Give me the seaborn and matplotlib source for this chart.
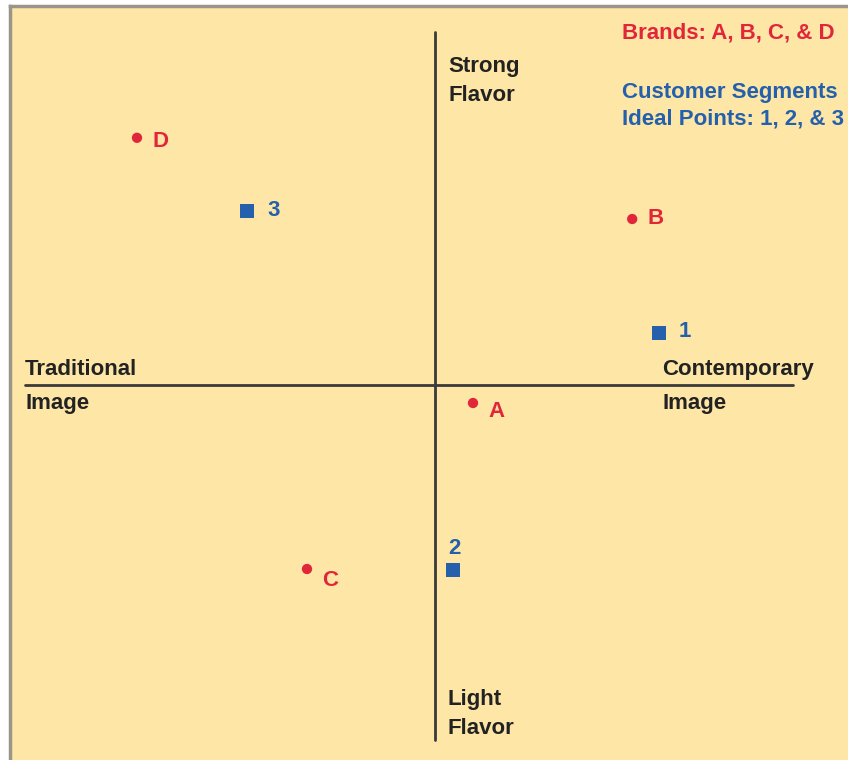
import matplotlib
matplotlib.use("Agg")
import matplotlib.pyplot as plt
import seaborn as sns
import pandas as pd

# Perceptual map data (x: Traditional(-) -> Contemporary(+), y: Light(-) -> Strong(+))
brand_names = ["A", "B", "C", "D"]
brand_x = [0.95, 4.93, -3.2, -7.45]
brand_y = [-0.45, 4.15, -4.6, 6.18]

segment_names = ["1", "2", "3"]
segment_x = [5.6, 0.45, -4.7]
segment_y = [1.3, -4.63, 4.35]

RED = "#E2263A"
BLUE = "#2460AC"
BG = "#FDE6A6"

df = pd.DataFrame({
    "name": brand_names + segment_names,
    "x": brand_x + segment_x,
    "y": brand_y + segment_y,
    "kind": ["Brand"] * len(brand_names) + ["Segment"] * len(segment_names),
})

# label offsets (points) for each point label
label_offsets = {"A": (11, -6), "B": (11, 0), "C": (11, -8), "D": (11, -3),
                 "1": (14, 1), "2": (1, 8), "3": (15, 0)}

sns.set_theme(style="white")
plt.rcParams['font.family'] = ['Liberation Sans Narrow', 'Liberation Sans', 'DejaVu Sans']

fig = plt.figure(figsize=(8.48, 7.6), dpi=100)
fig.patch.set_facecolor("white")
ax = fig.add_axes([10 / 848, 0, 838 / 848, 754 / 760])
ax.set_facecolor(BG)

sns.scatterplot(data=df, x="x", y="y", hue="kind", style="kind",
                palette={"Brand": RED, "Segment": BLUE},
                markers={"Brand": "o", "Segment": "s"},
                size="kind", sizes={"Brand": 55, "Segment": 110},
                linewidth=0, legend=False, ax=ax)

ax.set_xlim(-10.625, 10.325)
ax.set_ylim(-9.375, 9.475)

# axes lines
ax.plot([-10.25, 8.95], [0, 0], color="#3a3a3a", lw=2, zorder=1)
ax.plot([0, 0], [-8.875, 8.825], color="#3a3a3a", lw=2, zorder=1)

FS = 16
for _, r in df.iterrows():
    col = RED if r["kind"] == "Brand" else BLUE
    dx, dy = label_offsets[r["name"]]
    ha = "center" if r["name"] == "2" else "left"
    va = "bottom" if r["name"] == "2" else "center"
    ax.annotate(r["name"], (r["x"], r["y"]), xytext=(dx, dy), textcoords="offset points",
                ha=ha, va=va, color=col, fontsize=FS, fontweight="bold")

lab = dict(color="#222222", fontsize=FS, fontweight="bold", linespacing=1.5)
ax.text(0.33, 7.6, "Strong\nFlavor", ha="left", va="center", **lab)
ax.text(0.3, -8.22, "Light\nFlavor", ha="left", va="center", **lab)
ax.text(-10.25, 0.40, "Traditional", ha="left", va="center", **lab)
ax.text(-10.25, -0.45, "Image", ha="left", va="center", **lab)
ax.text(5.68, 0.40, "Contemporary", ha="left", va="center", **lab)
ax.text(5.68, -0.45, "Image", ha="left", va="center", **lab)

ax.text(4.68, 8.8, "Brands: A, B, C, & D", ha="left", va="center",
        color=RED, fontsize=FS, fontweight="bold")
ax.text(4.68, 6.98, "Customer Segments\nIdeal Points: 1, 2, & 3", ha="left", va="center",
        color=BLUE, fontsize=FS, fontweight="bold", linespacing=1.4)

ax.set_xticks([])
ax.set_yticks([])
ax.set_xlabel("")
ax.set_ylabel("")
for s in ["right", "bottom"]:
    ax.spines[s].set_visible(False)
for s in ["left", "top"]:
    ax.spines[s].set_visible(True)
    ax.spines[s].set_color("#9a9588")
    ax.spines[s].set_linewidth(2.5)

fig.savefig("out.png", dpi=100, facecolor="white")
